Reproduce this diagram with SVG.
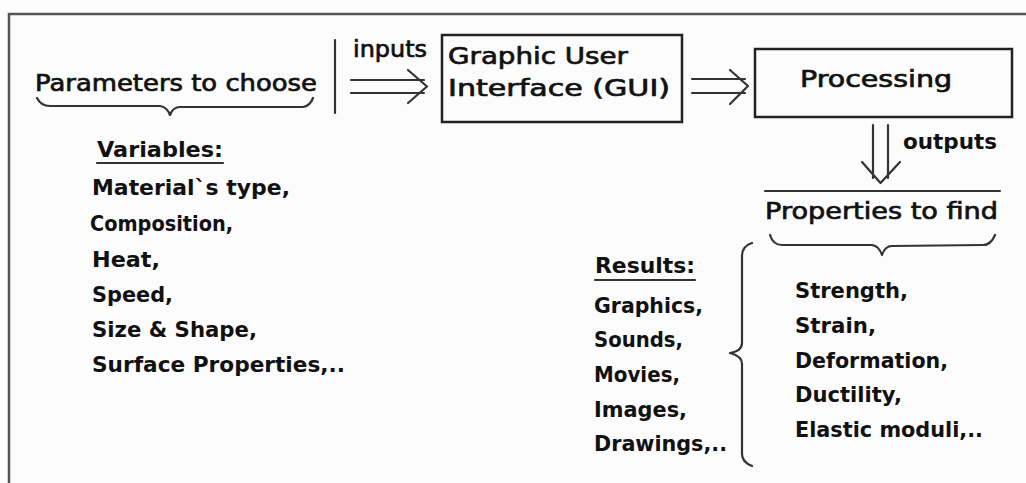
<svg xmlns="http://www.w3.org/2000/svg" width="1026" height="483" viewBox="0 0 1026 483">
<style>
  .bg { fill: #fcfcfc; }
  .frame { fill: none; stroke: #555; stroke-width: 2.5; }
  .box { fill: none; stroke: #222; stroke-width: 2.5; }
  .ln { fill: none; stroke: #333; stroke-width: 2.2; stroke-linecap: round; stroke-linejoin: round; }
  .hd { font-family: "DejaVu Sans", "Liberation Sans", sans-serif; font-size: 23px; fill: #111; stroke: #111; stroke-width: 0.7; }
  .it { font-family: "DejaVu Sans", "Liberation Sans", sans-serif; font-size: 21px; font-weight: bold; fill: #111; }
</style>
<rect class="bg" x="0" y="0" width="1026" height="483"/>
<path class="frame" d="M9,483 V14 H1026"/>

<g id="params">
  <text class="hd" x="35" y="91" font-size="24" textLength="282" lengthAdjust="spacingAndGlyphs">Parameters to choose</text>
</g>
<g id="gui">
  <rect class="box" x="442" y="35" width="240" height="87"/>
  <text class="hd" x="448" y="64" textLength="180" lengthAdjust="spacingAndGlyphs">Graphic User</text>
  <text class="hd" x="448" y="96" textLength="222" lengthAdjust="spacingAndGlyphs">Interface (GUI)</text>
</g>
<g id="processing">
  <rect class="box" x="755" y="49" width="257" height="68"/>
  <text class="hd" x="800" y="87" font-size="26" textLength="152" lengthAdjust="spacingAndGlyphs">Processing</text>
</g>
<g id="properties">
  <text class="hd" x="765" y="219" textLength="233" lengthAdjust="spacingAndGlyphs">Properties to find</text>
</g>
<g id="variables">
  <text class="it" x="97" y="157" textLength="126" lengthAdjust="spacingAndGlyphs">Variables:</text>
  <line class="ln" x1="97" y1="163" x2="223" y2="163"/>
  <text class="it" x="92" y="195" textLength="198" lengthAdjust="spacingAndGlyphs">Material`s type,</text>
  <text class="it" x="90" y="231" textLength="143" lengthAdjust="spacingAndGlyphs">Composition,</text>
  <text class="it" x="92" y="267" textLength="68" lengthAdjust="spacingAndGlyphs">Heat,</text>
  <text class="it" x="92" y="302" textLength="81" lengthAdjust="spacingAndGlyphs">Speed,</text>
  <text class="it" x="92" y="337" textLength="165" lengthAdjust="spacingAndGlyphs">Size &amp; Shape,</text>
  <text class="it" x="92" y="372" textLength="253" lengthAdjust="spacingAndGlyphs">Surface Properties,..</text>
</g>
<g id="results">
  <text class="it" x="595" y="273" textLength="100" lengthAdjust="spacingAndGlyphs">Results:</text>
  <line class="ln" x1="595" y1="280" x2="695" y2="280"/>
  <text class="it" x="594" y="313" textLength="109" lengthAdjust="spacingAndGlyphs">Graphics,</text>
  <text class="it" x="594" y="347" textLength="89" lengthAdjust="spacingAndGlyphs">Sounds,</text>
  <text class="it" x="594" y="382" textLength="86" lengthAdjust="spacingAndGlyphs">Movies,</text>
  <text class="it" x="594" y="417" textLength="93" lengthAdjust="spacingAndGlyphs">Images,</text>
  <text class="it" x="594" y="451" textLength="133" lengthAdjust="spacingAndGlyphs">Drawings,..</text>
</g>
<g id="property-list">
  <text class="it" x="795" y="298" textLength="113" lengthAdjust="spacingAndGlyphs">Strength,</text>
  <text class="it" x="795" y="333" textLength="81" lengthAdjust="spacingAndGlyphs">Strain,</text>
  <text class="it" x="795" y="368" textLength="153" lengthAdjust="spacingAndGlyphs">Deformation,</text>
  <text class="it" x="795" y="402" textLength="107" lengthAdjust="spacingAndGlyphs">Ductility,</text>
  <text class="it" x="795" y="437" textLength="188" lengthAdjust="spacingAndGlyphs">Elastic moduli,..</text>
</g>

<g id="connectors">
  <!-- brace under Parameters -->
  <path class="ln" d="M37,98 Q41,106 50,106 L160,106 Q167,107 170,115 Q173,107 180,107 L303,107 Q310,106 313,98"/>
  <!-- separator bar -->
  <line class="ln" x1="335" y1="40" x2="335" y2="113"/>
  <!-- inputs arrow -->
  <g id="arrow-inputs">
    <text class="hd" x="353" y="57" font-size="21" textLength="74" lengthAdjust="spacingAndGlyphs">inputs</text>
    <path class="ln" d="M351,80 H424 M351,93 H424 M408,70 L427,86.5 L408,103"/>
  </g>
  <!-- gui to processing -->
  <path class="ln" d="M692,79 H745 M692,93 H745 M730,70 L748,86 L730,104"/>
  <!-- outputs arrow -->
  <g id="arrow-outputs">
    <path class="ln" d="M873,125 V178 M888,125 V178 M862,162 L880.5,183 L900,162"/>
    <text class="it" x="903" y="149" textLength="94" lengthAdjust="spacingAndGlyphs">outputs</text>
  </g>
  <!-- line above Properties -->
  <line class="ln" x1="765" y1="191" x2="1000" y2="191"/>
  <!-- brace under Properties -->
  <path class="ln" d="M770,235 Q773,245 782,245 L872,245 Q879,246 882,255 Q885,246 892,246 L983,245 Q991,245 995,235"/>
  <!-- vertical brace -->
  <path class="ln" d="M752,243 Q742,246 742,256 L742,343 Q742,351 730,353 Q742,356 742,364 L742,454 Q742,462 752,466"/>
</g>
</svg>
